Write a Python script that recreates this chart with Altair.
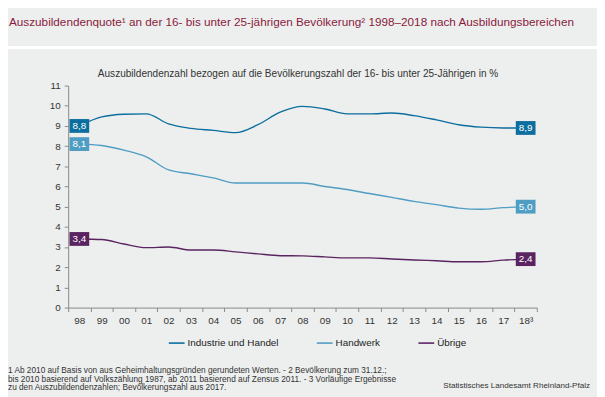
import altair as alt
import pandas as pd

years = ["98", "99", "00", "01", "02", "03", "04", "05", "06", "07", "08",
         "09", "10", "11", "12", "13", "14", "15", "16", "17", "18³"]
series = ["Industrie und Handel", "Handwerk", "Übrige"]
colors = ["#0B6E9E", "#4F9DC3", "#5A2461"]

industrie = [9.0, 9.45, 9.58, 9.6, 9.1, 8.88, 8.78, 8.67, 9.06, 9.68, 9.97,
             9.84, 9.6, 9.6, 9.64, 9.51, 9.3, 9.06, 8.94, 8.9, 8.9]
handwerk = [8.1, 8.03, 7.8, 7.47, 6.82, 6.63, 6.43, 6.17, 6.17, 6.17, 6.17,
            6.0, 5.85, 5.65, 5.46, 5.26, 5.1, 4.93, 4.87, 4.95, 5.0]
uebrige = [3.4, 3.37, 3.15, 2.97, 3.0, 2.85, 2.85, 2.76, 2.66, 2.57, 2.56,
           2.51, 2.46, 2.46, 2.41, 2.36, 2.32, 2.27, 2.27, 2.35, 2.4]
start_labels = ["8,8", "8,1", "3,4"]
end_labels = ["8,9", "5,0", "2,4"]

title = "Auszubildendenquote¹ an der 16- bis unter 25-jährigen Bevölkerung² 1998–2018 nach Ausbildungsbereichen"
subtitle = "Auszubildendenzahl  bezogen auf die Bevölkerungszahl  der 16- bis unter 25-Jährigen in %"
footnotes = [
    "1 Ab 2010 auf Basis von aus Geheimhaltungsgründen  gerundeten Werten. - 2 Bevölkerung  zum 31.12.;",
    "bis 2010 basierend auf Volkszählung 1987, ab 2011 basierend auf Zensus 2011. - 3 Vorläufige Ergebnisse",
    "zu den Auszubildendenzahlen;  Bevölkerungszahl  aus 2017.",
]
source = "Statistisches Landesamt Rheinland-Pfalz"

rows = []
for name, vals in zip(series, [industrie, handwerk, uebrige]):
    for y, v in zip(years, vals):
        rows.append({"year": y, "value": v, "series": name})
df = pd.DataFrame(rows)

lab_rows = []
for name, vals, s, e in zip(series, [industrie, handwerk, uebrige], start_labels, end_labels):
    lab_rows.append({"year": years[0], "value": vals[0], "series": name, "label": s})
    lab_rows.append({"year": years[-1], "value": vals[-1], "series": name, "label": e})
labdf = pd.DataFrame(lab_rows)

FONT = "Liberation Sans"

xenc = alt.X("year:O", sort=years, bandPosition=0.5,
             scale=alt.Scale(type="band", paddingInner=0, paddingOuter=0),
             axis=alt.Axis(title=None, labelAngle=0, tickBand="extent", tickSize=4,
                           labelPadding=4, labelFontSize=10, labelColor="#333333",
                           domainColor="#888888", tickColor="#888888", labelFont=FONT))
yenc = alt.Y("value:Q", scale=alt.Scale(domain=[0, 11], nice=False),
             axis=alt.Axis(title=None, values=list(range(0, 12)), tickSize=4,
                           labelPadding=4, labelFontSize=10, labelColor="#333333",
                           domainColor="#888888", tickColor="#888888", grid=False,
                           labelFont=FONT))

lines = alt.Chart(df).mark_line(strokeWidth=1.4, interpolate="monotone").encode(
    x=xenc, y=yenc,
    color=alt.Color("series:N", sort=series,
                    scale=alt.Scale(domain=series, range=colors),
                    legend=alt.Legend(title=None, orient="none", direction="horizontal",
                                      columns=3, legendX=101, legendY=252,
                                      symbolType="stroke", symbolSize=256,
                                      symbolStrokeWidth=1.6, labelFontSize=10,
                                      labelFont=FONT, labelColor="#222222",
                                      columnPadding=34, labelOffset=2)),
)

boxes = alt.Chart(labdf).mark_point(
    shape="M-1,-0.7H1V0.7H-1Z", size=400, filled=True, opacity=1, strokeWidth=0
).encode(
    x=xenc, y=yenc,
    fill=alt.Fill("series:N", scale=alt.Scale(domain=series, range=colors), legend=None),
)

boxtext = alt.Chart(labdf).mark_text(color="white", fontSize=10, font=FONT).encode(
    x=xenc, y=yenc, text="label:N")

one = pd.DataFrame({"d": [0]})

def txt(s, x, y, size, color, align="left", baseline="middle"):
    return alt.Chart(one).mark_text(fontSize=size, color=color, align=align,
                                    baseline=baseline, font=FONT).encode(
        x=alt.value(x), y=alt.value(y), text=alt.value(s))

sep = alt.Chart(one).mark_rect(color="white").encode(
    x=alt.value(-61), x2=alt.value(536), y=alt.value(-40), y2=alt.value(-37))

layers = [sep, lines, boxes, boxtext,
          txt(title, -60, -64, 11.9, "#8B1A3C"),
          txt(subtitle, 233, -12, 10.2, "#333333", align="center"),
          txt(footnotes[0], -61, 288, 8.4, "#333333"),
          txt(footnotes[1], -61, 297, 8.4, "#333333"),
          txt(footnotes[2], -61, 306, 8.4, "#333333"),
          txt(source, 529, 305, 8.2, "#333333", align="right")]

chart = alt.layer(*layers).properties(
    width=475, height=225,
    autosize=alt.AutoSizeParams(type="none"),
    padding={"left": 61, "top": 76, "right": 61, "bottom": 88},
    background="#EDEFEE",
).configure_view(stroke=None)

chart.save("out.html", embed_options={"renderer": "svg", "actions": False})
